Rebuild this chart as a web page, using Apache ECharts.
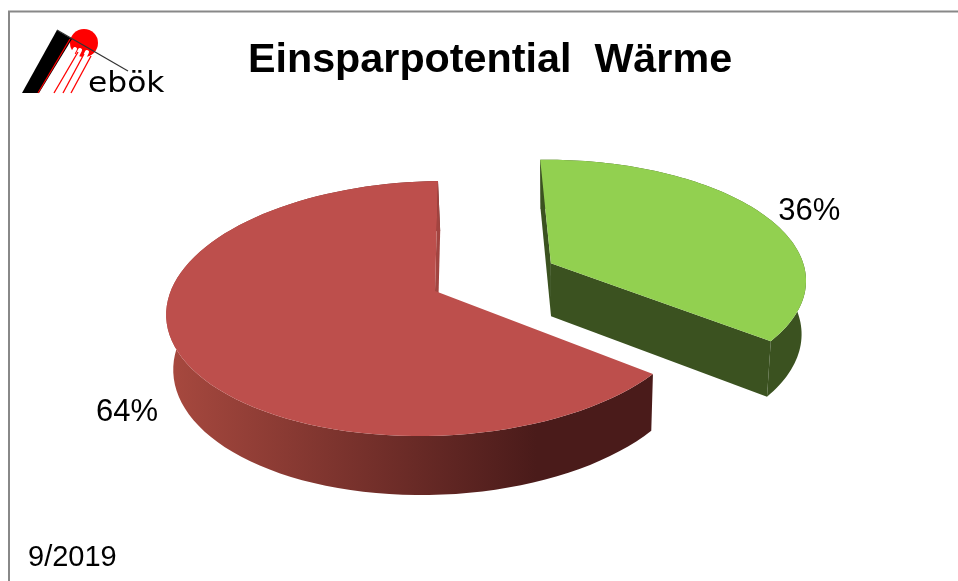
<!DOCTYPE html>
<html>
<head>
<meta charset="utf-8">
<style>html,body{margin:0;padding:0;background:#fff}#chart{width:958px;height:581px}</style>
<script src="https://cdn.jsdelivr.net/npm/echarts@6/dist/echarts.min.js"></script>
</head>
<body>
<div id="chart"></div>
<script>
// Chart content
const chartTitle = 'Einsparpotential  Wärme';
const dateNote = '9/2019';
const sliceNames = ['Einsparung', 'Restbedarf'];
const sliceValues = [36, 64];
const explodeBy = [0.5, 0];

// Slice colours: top face, radial wall, outer wall gradient
const topColors = ['#92d050', '#bd4f4c'];
const sideColors = ['#3b5220', '#a24440'];
const wallStops = [['#3b5220', '#3b5220'], ['#a8493f', '#4a1b1a']];
const labelOffsets = [[48, -2], [-51, 60]];

// Perspective view of the pie plane: unit disc to screen
const view = { x0: 435, y0: 291, ux: 267.5, vx: -63, uy: -1.4, vy: 85.2, uw: 0.01, vw: -0.137, height: 54, falloff: 0.6, taper: 0.018, axisX: 560 };

function project(u, v) {
  const w = 1 + view.uw * u + view.vw * v;
  return [(view.x0 + view.ux * u + view.vx * v) / w, (view.y0 + view.uy * u + view.vy * v) / w, w];
}
function lower(u, v) {
  const p = project(u, v);
  return [p[0] - view.taper * (p[0] - view.axisX), p[1] + view.height / Math.pow(p[2], view.falloff)];
}
// Which side of the line a-b the point p lies on
function side(a, b, p) {
  return (b[0] - a[0]) * (p[1] - a[1]) - (b[1] - a[1]) * (p[0] - a[0]);
}

function renderSlice(params, api) {
  const i = params.dataIndex;
  const total = sliceValues.reduce((a, b) => a + b, 0);
  const before = sliceValues.slice(0, i).reduce((a, b) => a + b, 0);
  const value = api.value(1);
  const start = before / total * Math.PI * 2;
  const end = (before + value) / total * Math.PI * 2;
  const mid = (start + end) / 2;
  const ox = explodeBy[i] * Math.sin(mid);
  const oy = -explodeBy[i] * Math.cos(mid);
  const steps = 90;
  const rim = [];
  for (let k = 0; k <= steps; k++) {
    const a = start + (end - start) * k / steps;
    rim.push([ox + Math.sin(a), oy - Math.cos(a)]);
  }
  const topRim = rim.map(q => project(q[0], q[1]).slice(0, 2));
  const lowRim = rim.map(q => lower(q[0], q[1]));
  const apex = project(ox, oy).slice(0, 2);
  const apexLow = lower(ox, oy);
  const xs = topRim.map(p => p[0]);
  const gradient = new echarts.graphic.LinearGradient(
    Math.min.apply(null, xs), 0, Math.max.apply(null, xs), 0,
    [{ offset: 0, color: wallStops[i][0] }, { offset: i ? 0.76 : 1, color: wallStops[i][1] }, { offset: 1, color: wallStops[i][1] }],
    true
  );
  const labelAt = project(ox + Math.sin(mid), oy - Math.cos(mid));
  const inner = topRim[steps >> 1];
  // A cut face only shows when its lower edge falls outside the slice's own top face
  const cutFaces = [0, steps]
    .filter(k => side(apex, topRim[k], lowRim[k]) * side(apex, topRim[k], inner) < 0)
    .map(k => ({ type: 'polygon', shape: { points: [apex, topRim[k], lowRim[k], apexLow] }, style: { fill: sideColors[i] } }));
  return {
    type: 'group',
    children: [
      { type: 'polygon', shape: { points: topRim.concat(lowRim.slice().reverse()) }, style: { fill: gradient } }
    ].concat(cutFaces, [
      { type: 'polygon', shape: { points: [apex].concat(topRim) }, style: { fill: topColors[i] } },
      {
        type: 'text',
        style: {
          x: labelAt[0] + labelOffsets[i][0],
          y: labelAt[1] + labelOffsets[i][1],
          text: value + '%',
          fill: '#000',
          font: '31px "Liberation Sans", Arial, sans-serif',
          align: 'center',
          verticalAlign: 'middle'
        }
      }
    ])
  };
}

const chart = echarts.init(document.getElementById('chart'), null, { renderer: 'canvas' });
chart.setOption({
  animation: false,
  backgroundColor: '#fff',
  title: {
    text: chartTitle,
    left: 485,
    top: 35,
    textAlign: 'center',
    textStyle: { fontFamily: '"Liberation Sans", Arial, sans-serif', fontSize: 41.3, fontWeight: 'bold', color: '#000' }
  },
  graphic: [
    { type: 'polyline', shape: { points: [[9, 581], [9, 11.5], [958, 11.5]] }, style: { stroke: '#888', lineWidth: 2, fill: null } },
    { type: 'text', style: { x: 28, y: 558, text: dateNote, fill: '#000', font: '29px "Liberation Sans", Arial, sans-serif', verticalAlign: 'middle' } },
    // ebök mark: sun, white gaps under the roof line, rays, roof wedge and wordmark
    { type: 'circle', shape: { cx: 84, cy: 43, r: 14 }, style: { fill: '#f00' } },
    { type: 'line', shape: { x1: 50, y1: 93, x2: 75, y2: 49 }, style: { stroke: '#fff', lineWidth: 4, lineCap: 'round' } },
    { type: 'line', shape: { x1: 59, y1: 93, x2: 80, y2: 50 }, style: { stroke: '#fff', lineWidth: 4, lineCap: 'round' } },
    { type: 'line', shape: { x1: 67, y1: 93, x2: 87, y2: 52 }, style: { stroke: '#fff', lineWidth: 4, lineCap: 'round' } },
    { type: 'line', shape: { x1: 76, y1: 93, x2: 94, y2: 56 }, style: { stroke: '#fff', lineWidth: 4, lineCap: 'round' } },
    { type: 'polygon', shape: { points: [[22, 93], [57, 30], [72, 39], [39, 93]] }, style: { fill: '#000' } },
    { type: 'line', shape: { x1: 38, y1: 93, x2: 70, y2: 39 }, style: { stroke: '#f00', lineWidth: 1.2 } },
    { type: 'line', shape: { x1: 54, y1: 93, x2: 78, y2: 52 }, style: { stroke: '#f00', lineWidth: 1.3 } },
    { type: 'line', shape: { x1: 63, y1: 93, x2: 84, y2: 54 }, style: { stroke: '#f00', lineWidth: 1.3 } },
    { type: 'line', shape: { x1: 71, y1: 93, x2: 91, y2: 56 }, style: { stroke: '#f00', lineWidth: 1.3 } },
    { type: 'line', shape: { x1: 57, y1: 30, x2: 128, y2: 71 }, style: { stroke: '#333', lineWidth: 1.2 } },
    { type: 'text', x: 88, y: 84, scaleX: 1.08, style: { x: 0, y: 0, text: 'ebök', fill: '#000', font: '29px "DejaVu Sans", sans-serif', verticalAlign: 'middle' } }
  ],
  series: [{
    type: 'custom',
    coordinateSystem: 'none',
    renderItem: renderSlice,
    data: sliceNames.map((name, i) => ({ name: name, value: [i, sliceValues[i]] }))
  }]
});
</script>
</body>
</html>
